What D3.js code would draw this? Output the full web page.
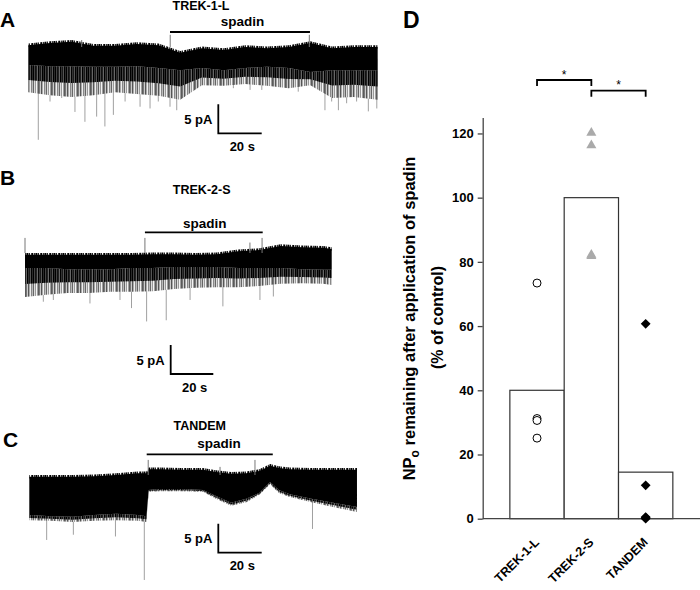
<!DOCTYPE html>
<html>
<head>
<meta charset="utf-8">
<script src="https://cdn.jsdelivr.net/npm/d3@7"></script>
<style>
  body { margin: 0; background: #fff; }
  svg { display: block; font-family: Arial, "Liberation Sans", Helvetica, sans-serif; }
  .bold { font-weight: bold; }
</style>
</head>
<body>
<svg id="chart" width="700" height="590"></svg>
<script>
// ---- panel D data (% of control) ----
var categories = ["TREK-1-L", "TREK-2-S", "TANDEM"];
var meanValues = [40, 100, 14.5];
var trek1Points = [73.4, 31.2, 30.6, 25.1];
var trek2Points = [120.2, 116.3, 82.2, 81.8];
var tandemPoints = [60.7, 10.4, 0.5, 0.3, 0];
var yTicks = [0, 20, 40, 60, 80, 100, 120];
var brackets = [["TREK-1-L", "TREK-2-S"], ["TREK-2-S", "TANDEM"]];

// ---- traces: time (s), envelope of the record (pA) ----
var traceTitles = ["TREK-1-L", "TREK-2-S", "TANDEM"];
var scaleBar = {pA: 5, s: 20};

var aTime   = [0, 10, 20, 30, 40, 50, 60, 70, 80, 90, 100, 110, 120, 130, 140, 150, 161];
var aTop    = [0.3, 0.7, 0.9, 0.2, 0.2, 0.5, 0.3, -1.0, -0.2, -0.5, 0, -0.2, 0, 0.7, -0.2, 0, 0];
var aBottom = [-3.1, -3.3, -3.3, -3.4, -3.4, -3.3, -3.6, -4.0, -3.6, -4.0, -3.6, -3.4, -3.6, -4.3, -4.0, -4.0, -4.0];
var aFringe = [-7.8, -8.3, -8.6, -8.3, -7.8, -8.1, -8.4, -9.1, -6.6, -6.7, -6.4, -6.7, -7.1, -6.6, -8.8, -8.6, -9.1];
var aSpikes = [[4.6, -16.0], [10.0, -9.4], [15.4, -8.8], [21.5, -11.2], [26.1, -12.9], [31.5, -12.0],
  [35.3, -13.7], [39.2, -11.7], [44.6, -9.4], [51.5, -10.3], [56.1, -10.6], [59.9, -9.4], [65.3, -10.3],
  [68.4, -10.9], [94.5, -7.1], [102.2, -7.4], [107.6, -7.4], [124.4, -7.7], [129.8, -6.6], [133, -5.5],
  [136.7, -10.9], [139.8, -9.4], [142.9, -10.9], [146.7, -9.7], [151.3, -9.4], [156.7, -11.1], [160.6, -10.6]];
var aUpSpikes = [[24.6, 1.2], [65.4, 2.1], [129.5, 2.1]];
var aSpadin = [65.3, 129.8];

var bTime   = [0, 10, 20, 30, 40, 50, 60, 70, 80, 90, 100, 110, 120, 130, 140, 144];
var bTop    = [-0.3, -0.3, -0.3, -0.3, -0.3, -0.3, -0.2, -0.2, -0.3, -0.2, 0.3, 0.5, 1.2, 1.0, 0.9, 0.7];
var bBottom = [-2.6, -2.6, -2.8, -2.8, -2.8, -2.6, -2.6, -2.4, -2.4, -2.4, -2.6, -2.6, -2.6, -2.8, -2.9, -2.9];
var bFringe = [-7.6, -7.2, -6.9, -6.9, -6.7, -6.7, -6.6, -6.2, -6.0, -5.9, -5.9, -5.7, -5.3, -5.2, -5.3, -5.5];
var bSpikes = [[8.6, -8.4], [13.3, -8.1], [30.5, -8.7], [44.6, -8.1], [50.0, -9.5], [57.1, -11.8],
  [66.3, -11.6], [77.5, -8.1], [92.9, -9.2], [110.3, -8.1], [116.6, -7.5]];
var bUpSpikes = [[0, 2.6], [56.3, 2.6], [105.6, 1.8], [111.3, 2.6]];
var bSpadin = [56.3, 111.6];

var cTime   = [0, 10, 20, 30, 40, 50, 54, 55, 60, 70, 80, 86, 93, 100, 106, 111, 115, 120, 130, 140, 151];
var cTop    = [-0.3, -0.3, -0.3, -0.2, 0, 0.3, 0.3, 1.0, 1.0, 0.9, 0.9, 0.5, 0.2, 0.3, 0.7, 1.6, 1.2, 1.0, 0.9, 0.9, 0.9];
var cBottom = [-6.9, -7.1, -7.2, -6.9, -6.7, -6.9, -7.1, -2.6, -2.4, -2.4, -2.6, -3.6, -4.8, -4.1, -3.1, -1.2, -2.6, -3.3, -4.1, -4.8, -5.5];
var cFringe = [-7.8, -7.9, -8.1, -7.9, -7.8, -7.9, -8.1, -2.9, -2.8, -2.8, -2.9, -4.1, -5.3, -4.7, -3.4, -1.6, -3.1, -3.8, -4.7, -5.5, -6.4];
var cSpikes = [[8.0, -11.2], [20.3, -10.3], [39.7, -10.6], [53.0, -18.1], [130.5, -9.3]];
var cUpSpikes = [[54.8, 2.6], [87.9, 1.4], [104.0, 2.6]];
var cSpadin = [54.1, 112.2];

var svg = d3.select("#chart");

// stripe textures for the dense opening regions
var defs = svg.append("defs");
function stripes(id, shades) {
  var p = defs.append("pattern").attr("id", id)
      .attr("width", shades.length).attr("height", 10).attr("patternUnits", "userSpaceOnUse");
  shades.forEach(function(c, i) {
    p.append("rect").attr("x", i).attr("width", 1).attr("height", 10).attr("fill", c);
  });
}
stripes("dark", ["#000", "#444", "#111", "#222", "#666", "#000", "#333", "#1a1a1a", "#555", "#000", "#2a2a2a"]);
stripes("light", ["#777", "#ccc", "#555", "#aaa", "#eee", "#888", "#bbb", "#666", "#ddd", "#999", "#f4f4f4", "#a0a0a0", "#5a5a5a"]);
stripes("fuzz", ["#000", "#888", "#222", "#fff", "#444", "#000", "#bbb", "#333", "#666"]);

var panels = [
  {letter: "A", title: traceTitles[0], time: aTime, top: aTop, bottom: aBottom, fringe: aFringe,
   spikes: aSpikes, up: aUpSpikes, spadin: aSpadin,
   x0: 28.3, pps: 2.17, y0: 47, letterX: 0, letterY: 26.7, titleX: 201, titleY: 10,
   spadinX: 242.5, spadinY: 25.7, barY: 32, bar: [218.3, 133.3]},
  {letter: "B", title: traceTitles[1], time: bTime, top: bTop, bottom: bBottom, fringe: bFringe,
   spikes: bSpikes, up: bUpSpikes, spadin: bSpadin,
   x0: 25, pps: 2.13, y0: 253, letterX: 0, letterY: 185, titleX: 201.7, titleY: 194,
   spadinX: 204.7, spadinY: 227.5, barY: 232.3, bar: [170.7, 374]},
  {letter: "C", title: traceTitles[2], time: cTime, top: cTop, bottom: cBottom, fringe: cFringe,
   spikes: cSpikes, up: cUpSpikes, spadin: cSpadin,
   x0: 29.3, pps: 2.17, y0: 475, letterX: 3, letterY: 446.7, titleX: 199.7, titleY: 430,
   spadinX: 219, spadinY: 448.3, barY: 454.3, bar: [218.3, 552.7]}
];

panels.forEach(function(p) {
  var g = svg.append("g");
  var dur = p.time[p.time.length - 1];
  var x = d3.scaleLinear().domain([0, dur]).range([p.x0, p.x0 + dur * p.pps]);
  var y = d3.scaleLinear().domain([0, -5]).range([p.y0, p.y0 + 29]);
  var rows = p.time.map(function(t, i) {
    return {t: t, top: p.top[i], bot: p.bottom[i], fringe: p.fringe[i]};
  });
  var area = d3.area().x(d => x(d.t));

  // long single openings
  g.selectAll(".spike").data(p.spikes).enter().append("line")
      .attr("x1", d => x(d[0])).attr("x2", d => x(d[0]))
      .attr("y1", y(-2)).attr("y2", d => y(d[1]))
      .attr("stroke", "#a0a0a0").attr("stroke-width", 1);

  // fringe: lighter outer part, darker inner part
  g.append("path")
      .attr("d", area.y0(d => y(d.bot)).y1(d => y(d.fringe))(rows))
      .attr("fill", "url(#light)");
  g.append("path")
      .attr("d", area.y0(d => y(d.bot)).y1(d => y(d.bot + (d.fringe - d.bot) * 0.55))(rows))
      .attr("fill", "url(#dark)");

  g.append("path")
      .attr("d", area.y0(d => y(d.top - 0.3)).y1(d => y(d.top + 0.3))(rows))
      .attr("fill", "url(#fuzz)");

  g.append("path")
      .attr("d", area.y0(d => y(d.top)).y1(d => y(d.bot))(rows))
      .attr("fill", "#000");

  g.selectAll(".up").data(p.up).enter().append("line")
      .attr("x1", d => x(d[0])).attr("x2", d => x(d[0]))
      .attr("y1", y(0)).attr("y2", d => y(d[1]))
      .attr("stroke", "#777").attr("stroke-width", 1);

  // labels
  g.append("text").attr("class", "bold").attr("x", p.letterX).attr("y", p.letterY)
      .attr("font-size", 21).text(p.letter);
  g.append("text").attr("class", "bold").attr("x", p.titleX).attr("y", p.titleY)
      .attr("text-anchor", "middle").attr("font-size", 12.5).text(p.title);
  g.append("text").attr("class", "bold").attr("x", p.spadinX).attr("y", p.spadinY)
      .attr("text-anchor", "middle").attr("font-size", 13.5).text("spadin");
  g.append("line").attr("x1", x(p.spadin[0])).attr("x2", x(p.spadin[1]))
      .attr("y1", p.barY).attr("y2", p.barY).attr("stroke", "#000").attr("stroke-width", 1.8);

  // scale bar
  var cx = p.bar[0], cy = p.bar[1];
  var hLen = x(scaleBar.s) - x(0), vLen = y(-scaleBar.pA) - y(0);
  g.append("path")
      .attr("d", "M" + cx + "," + (cy - vLen) + "V" + cy + "H" + (cx + hLen))
      .attr("fill", "none").attr("stroke", "#000").attr("stroke-width", 1.8);
  g.append("text").attr("class", "bold").attr("x", cx - 6).attr("y", cy - 9.5)
      .attr("text-anchor", "end").attr("font-size", 13).text(scaleBar.pA + " pA");
  g.append("text").attr("class", "bold").attr("x", cx + 24).attr("y", cy + 17.5)
      .attr("text-anchor", "middle").attr("font-size", 13).text(scaleBar.s + " s");
});

// ---- panel D ----
var dLeft = 482.7, dRight = 700, dBottom = 518.7;
var xScale = d3.scaleBand().domain(categories).range([dLeft, dRight]).paddingInner(0).paddingOuter(0.5);
var yScale = d3.scaleLinear().domain([0, 125]).range([dBottom, dBottom - 125 * 3.2104]);
var d = svg.append("g");

d.selectAll(".bar").data(categories).enter().append("rect")
    .attr("x", c => xScale(c))
    .attr("y", (c, i) => yScale(meanValues[i]))
    .attr("width", xScale.bandwidth())
    .attr("height", (c, i) => dBottom - yScale(meanValues[i]))
    .attr("fill", "#fff").attr("stroke", "#333").attr("stroke-width", 1.2);

var yAxis = d3.axisLeft(yScale).tickValues(yTicks).tickSize(5).tickSizeOuter(0).tickPadding(4);
var ya = d.append("g").attr("transform", "translate(" + dLeft + ",0)").call(yAxis);
ya.select(".domain").attr("stroke", "#444").attr("stroke-width", 1.3);
ya.selectAll(".tick line").attr("stroke", "#444").attr("stroke-width", 1.3);
ya.selectAll(".tick text").attr("font-size", 13).attr("font-weight", "bold")
    .attr("font-family", "Arial, 'Liberation Sans', sans-serif").attr("fill", "#000");

d.append("line").attr("x1", dLeft).attr("x2", dRight).attr("y1", dBottom).attr("y2", dBottom)
    .attr("stroke", "#444").attr("stroke-width", 1.3);

d.selectAll(".xlab").data(categories).enter().append("text")
    .attr("class", "bold")
    .attr("transform", c => "translate(" + (xScale(c) + xScale.bandwidth() / 2 + 3) + ",543) rotate(-45)")
    .attr("text-anchor", "end").attr("font-size", 12.5).text(c => c);

var cxOf = c => xScale(c) + xScale.bandwidth() / 2;

d.selectAll(".p1").data(trek1Points).enter().append("circle")
    .attr("cx", cxOf(categories[0])).attr("cy", v => yScale(v)).attr("r", 4)
    .attr("fill", "#fff").attr("stroke", "#000").attr("stroke-width", 1);

d.selectAll(".p2").data(trek2Points).enter().append("path")
    .attr("d", d3.symbol().type(d3.symbolTriangle).size(44))
    .attr("transform", v => "translate(" + cxOf(categories[1]) + "," + yScale(v) + ")")
    .attr("fill", "#aaa");

d.selectAll(".p3").data(tandemPoints).enter().append("path")
    .attr("d", d3.symbol().type(d3.symbolSquare).size(48))
    .attr("transform", v => "translate(" + cxOf(categories[2]) + "," + yScale(v) + ") rotate(45)")
    .attr("fill", "#000");

// significance brackets
var bracketY = [80, 90.7];
brackets.forEach(function(b, i) {
  var x1 = cxOf(b[0]), x2 = cxOf(b[1]), by = bracketY[i];
  d.append("path")
      .attr("d", "M" + x1 + "," + (by + 6) + "V" + by + "H" + x2 + "V" + (by + 6))
      .attr("fill", "none").attr("stroke", "#000").attr("stroke-width", 1.8);
  d.append("text").attr("x", (x1 + x2) / 2).attr("y", by - 1.5)
      .attr("text-anchor", "middle").attr("font-size", 12).text("*");
});

// y label
var yl = d.append("text").attr("class", "bold")
    .attr("transform", "translate(415,318.5) rotate(-90)")
    .attr("text-anchor", "middle").attr("font-size", 16.5);
yl.append("tspan").text("NP");
yl.append("tspan").attr("font-size", 12).attr("dy", 4).text("o");
yl.append("tspan").attr("dy", -4).text(" remaining after application of spadin");
d.append("text").attr("class", "bold")
    .attr("transform", "translate(443,317.5) rotate(-90)")
    .attr("text-anchor", "middle").attr("font-size", 16).text("(% of control)");

d.append("text").attr("class", "bold").attr("x", 403).attr("y", 27.5)
    .attr("font-size", 23).text("D");
</script>
</body>
</html>
